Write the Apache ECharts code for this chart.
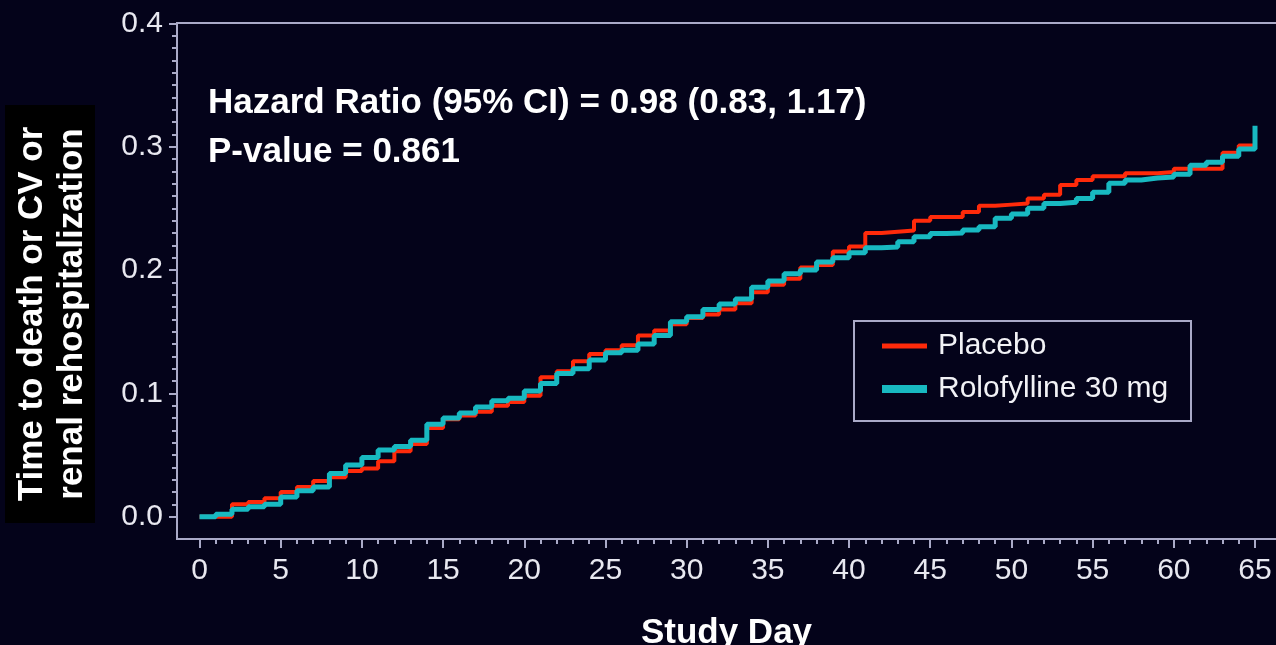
<!DOCTYPE html>
<html>
<head>
<meta charset="utf-8">
<script src="https://cdn.jsdelivr.net/npm/echarts@6/dist/echarts.min.js"></script>
<style>
  html, body { margin: 0; padding: 0; background: #04031a; }
  #chart { width: 1276px; height: 645px; }
</style>
</head>
<body>
<div id="chart"></div>
<script>
// Kaplan-Meier style cumulative event curves by study day
const studyDays = [0,1,2,3,4,5,6,7,8,9,10,11,12,13,14,15,16,17,18,19,20,21,22,23,24,25,26,27,28,29,30,31,32,33,34,35,36,37,38,39,40,41,42,43,44,45,46,47,48,49,50,51,52,53,54,55,56,57,58,59,60,61,62,63,64,65];

const placebo = [0,0,0.010,0.012,0.015,0.020,0.024,0.029,0.032,0.037,0.039,0.045,0.053,0.059,0.072,0.079,0.082,0.085,0.090,0.093,0.098,0.113,0.118,0.126,0.132,0.135,0.139,0.147,0.151,0.156,0.161,0.164,0.168,0.173,0.182,0.188,0.193,0.202,0.204,0.215,0.219,0.230,0.231,0.232,0.240,0.243,0.243,0.247,0.252,0.253,0.254,0.258,0.261,0.269,0.273,0.276,0.276,0.2785,0.2785,0.2795,0.282,0.282,0.282,0.295,0.301,0.301];

const rolofylline = [0,0.002,0.006,0.008,0.010,0.016,0.021,0.024,0.035,0.042,0.048,0.054,0.057,0.062,0.075,0.080,0.084,0.089,0.094,0.096,0.102,0.108,0.116,0.120,0.127,0.133,0.135,0.140,0.147,0.158,0.162,0.168,0.1725,0.1765,0.186,0.191,0.197,0.200,0.2065,0.210,0.214,0.218,0.2186,0.223,0.227,0.2295,0.230,0.2324,0.235,0.242,0.2453,0.250,0.254,0.255,0.258,0.263,0.2704,0.273,0.2745,0.2753,0.2777,0.285,0.2874,0.2923,0.298,0.317];

// tick positions
const xMajorTicks = [0,5,10,15,20,25,30,35,40,45,50,55,60,65];
const yMajorTicks = [0,0.1,0.2,0.3,0.4];
const xMinorTicks = studyDays.slice();
const yMinorTicks = [];
for (let k = 0; k <= 40; k++) yMinorTicks.push(+(k / 100).toFixed(2));

const seriesNames = ['Placebo', 'Rolofylline 30 mg'];
const annotationLines = ['Hazard Ratio (95% CI) = 0.98 (0.83, 1.17)', 'P-value = 0.861'];
const yTitleLines = ['Time to death or CV or', 'renal rehospitalization'];
const xTitle = 'Study Day';

const RED = '#ff2a0a';
const CYAN = '#18b9c1';
const AXIS = '#aaaac8';
const FONT = '"Liberation Sans", Arial, Helvetica, sans-serif';

const toPairs = vals => studyDays.map((d, i) => [d, vals[i]]);

// the plot frame sits a little outside day 0 and value 0
const xBase = { type: 'value', min: -1.3856, max: 66.293, position: 'bottom',
  axisLine: { show: false, onZero: false }, splitLine: { show: false } };
const yBase = { type: 'value', min: -0.018079, max: 0.4, position: 'left',
  axisLine: { show: false, onZero: false }, splitLine: { show: false } };

const chart = echarts.init(document.getElementById('chart'), null, { renderer: 'canvas' });

chart.setOption({
  backgroundColor: '#04031a',
  animation: false,
  grid: {
    left: 177, right: 0, top: 23.3, bottom: 106,
    containLabel: false, outerBoundsMode: 'none'
  },
  xAxis: [
    Object.assign({}, xBase, {
      name: xTitle,
      nameLocation: 'middle',
      nameGap: 77,
      nameTextStyle: { color: '#ffffff', fontFamily: FONT, fontWeight: 'bold', fontSize: 35 },
      axisTick: { show: true, inside: false, length: 9, customValues: xMajorTicks,
        lineStyle: { color: AXIS, width: 2 } },
      axisLabel: { color: '#e8e8f0', fontFamily: FONT, fontSize: 30, margin: 17,
        customValues: xMajorTicks }
    }),
    Object.assign({}, xBase, {
      axisTick: { show: true, inside: false, length: 5, customValues: xMinorTicks,
        lineStyle: { color: AXIS, width: 2 } },
      axisLabel: { show: false }
    })
  ],
  yAxis: [
    Object.assign({}, yBase, {
      axisTick: { show: true, inside: false, length: 8, customValues: yMajorTicks,
        lineStyle: { color: AXIS, width: 2 } },
      axisLabel: {
        color: '#e8e8f0', fontFamily: FONT, fontSize: 30, margin: 14,
        customValues: yMajorTicks,
        formatter: v => v.toFixed(1)
      }
    }),
    Object.assign({}, yBase, {
      axisTick: { show: true, inside: false, length: 5, customValues: yMinorTicks,
        lineStyle: { color: AXIS, width: 2 } },
      axisLabel: { show: false }
    })
  ],
  legend: {
    orient: 'vertical',
    left: 882,
    top: 329,
    padding: 0,
    itemWidth: 45,
    itemHeight: 14,
    itemGap: 9,
    textStyle: { color: '#f2f2f6', fontFamily: FONT, fontSize: 30, lineHeight: 34, padding: [0, 0, 0, 6] },
    data: [
      { name: seriesNames[0], icon: 'path://M0,0L0,0M0,14L0,14M0,4.5H45V9.5H0Z' },
      { name: seriesNames[1], icon: 'path://M0,0L0,0M0,14L0,14M0,3H45V11H0Z' }
    ]
  },
  series: [
    {
      name: seriesNames[0],
      type: 'line',
      step: 'end',
      symbol: 'none',
      color: RED,
      lineStyle: { color: RED, width: 4 },
      z: 2,
      data: toPairs(placebo)
    },
    {
      name: seriesNames[1],
      type: 'line',
      step: 'end',
      symbol: 'none',
      color: CYAN,
      lineStyle: { color: CYAN, width: 5 },
      z: 3,
      data: toPairs(rolofylline)
    }
  ],
  graphic: [
    // plot frame: left axis, bottom axis and top border
    {
      type: 'polyline',
      silent: true,
      shape: { points: [[1276, 23], [177, 23], [177, 539], [1276, 539]] },
      style: { stroke: AXIS, lineWidth: 2, fill: null }
    },
    // legend box
    {
      type: 'rect',
      silent: true,
      shape: { x: 854, y: 321, width: 337, height: 100 },
      style: { stroke: AXIS, lineWidth: 2, fill: null }
    },
    // y-axis title on a black panel
    {
      type: 'rect',
      silent: true,
      shape: { x: 5, y: 105, width: 90, height: 418 },
      style: { fill: '#000000' }
    },
    {
      type: 'text',
      silent: true,
      x: 52, y: 314,
      rotation: Math.PI / 2,
      style: {
        text: yTitleLines.join('\n'),
        align: 'center',
        verticalAlign: 'middle',
        fill: '#ffffff',
        font: 'bold 35px ' + FONT,
        lineHeight: 40
      }
    },
    // statistics annotation
    {
      type: 'text',
      silent: true,
      x: 208, y: 79,
      style: {
        text: annotationLines.join('\n'),
        fill: '#ffffff',
        font: 'bold 35px ' + FONT,
        lineHeight: 49
      }
    }
  ]
});
</script>
</body>
</html>
